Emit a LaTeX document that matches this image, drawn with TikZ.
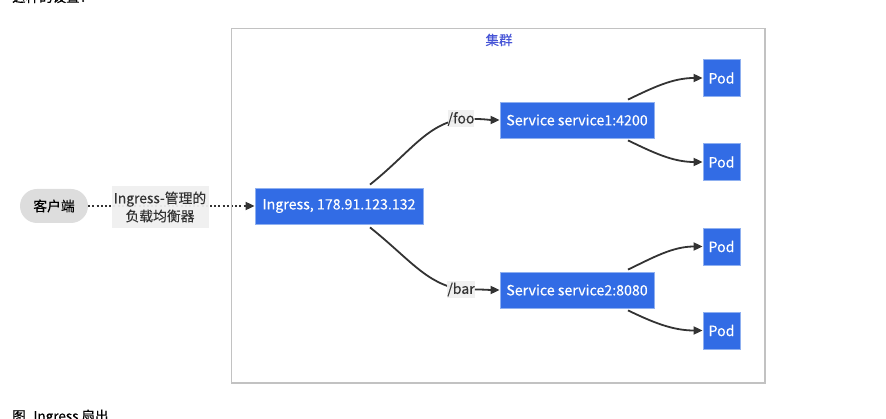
\documentclass[tikz,border=0pt]{standalone}
\usepackage{fontspec}
\setmainfont{Noto Sans CJK SC}[FakeBold=0.15]
\usetikzlibrary{arrows.meta,backgrounds}
\definecolor{kblue}{HTML}{326CE5}
\definecolor{kborder}{HTML}{8FB0F0}
\definecolor{edgec}{HTML}{333333}
\definecolor{lblbg}{HTML}{EFEFEF}
\definecolor{clientbg}{HTML}{DDDDDD}
\definecolor{clusterc}{HTML}{C2C2C2}
\definecolor{clustertxt}{HTML}{4654D6}
\tikzset{
  kbox/.style={draw=kborder, line width=0.8pt, fill=kblue, text=white, inner sep=0pt, font=\fontsize{14.2}{16}\selectfont},
  podbox/.style={kbox, minimum width=37, minimum height=37},
  svcbox/.style={kbox, minimum width=154, minimum height=36},
  lbl/.style={fill=lblbg, fill opacity=0.95, text opacity=1, inner sep=0pt, text=edgec, font=\fontsize{14}{16}\selectfont},
  arr/.style={draw=edgec, line width=1.8pt, -{Triangle[length=9pt,width=8pt]}},
  plain/.style={draw=edgec, line width=1.8pt},
}
\begin{document}
\begin{tikzpicture}[x=1pt,y=-1pt]
\useasboundingbox (0,0) rectangle (886,419);
\clip (0,0) rectangle (886,419);
% partially visible surrounding text
\node[anchor=base west, inner sep=0pt, font=\fontsize{13.5}{15}\selectfont, text=black] (toptxt) at (12,2) {这样的设置：};
\node[anchor=base west, inner sep=0pt, font=\fontsize{13.5}{15}\selectfont, text=black] (cap) at (12,421) {图. Ingress 扇出};
% cluster
\draw[clusterc, line width=1.8pt] (231.5,28.5) rectangle (765,383);
\node[text=clustertxt, font=\fontsize{13.5}{15}\selectfont] (clt) at (499,40) {集群};
% nodes
\node[fill=clientbg, rounded corners=17pt, minimum width=68, minimum height=34, inner sep=0pt, font=\fontsize{13.8}{15}\selectfont] (client) at (54,206) {客户端};
\node[lbl, minimum width=97, minimum height=42, align=center, font=\fontsize{13.8}{18}\selectfont] (lb) at (160,207) {Ingress-管理的\\负载均衡器};
\node[kbox, minimum width=168, minimum height=36] (ing) at (339,206) {Ingress, 178.91.123.132};
\node[svcbox] (s1) at (577,120) {Service service1:4200};
\node[svcbox] (s2) at (577,290) {Service service2:8080};
\node[podbox] (p1) at (721.5,78) {Pod};
\node[podbox] (p2) at (721.5,162) {Pod};
\node[podbox] (p3) at (721.5,246.5) {Pod};
\node[podbox] (p4) at (721.5,330.5) {Pod};
\node[lbl, minimum width=26, minimum height=17] (foo) at (461,119) {/foo};
\node[lbl, minimum width=26, minimum height=17] (bar) at (461,289.5) {/bar};
% edges
\begin{scope}[on background layer]
\draw[edgec, line width=1.8pt, dash pattern=on 2pt off 2.2pt, -{Triangle[length=9pt,width=8pt]}] (client.east) -- (ing.west);
\draw[plain] ([xshift=31pt,yshift=3pt]ing.north) .. controls +(40,-32) and +(-35,6) .. (foo.center);
\draw[plain] ([xshift=31pt,yshift=-3pt]ing.south) .. controls +(40,32) and +(-35,-6) .. (bar.center);
\end{scope}
\draw[arr] (foo.east) .. controls +(10,0) and +(-10,0) .. (s1.west);
\draw[arr] (bar.east) .. controls +(10,0) and +(-10,0) .. (s2.west);
\draw[arr] ([xshift=51pt,yshift=2pt]s1.north) .. controls +(25,-12) and +(-30,0) .. (p1.west);
\draw[arr] ([xshift=51pt,yshift=-2pt]s1.south) .. controls +(25,12) and +(-30,0) .. (p2.west);
\draw[arr] ([xshift=51pt,yshift=2pt]s2.north) .. controls +(25,-12) and +(-30,0) .. (p3.west);
\draw[arr] ([xshift=51pt,yshift=-2pt]s2.south) .. controls +(25,12) and +(-30,0) .. (p4.west);
\end{tikzpicture}
\end{document}
